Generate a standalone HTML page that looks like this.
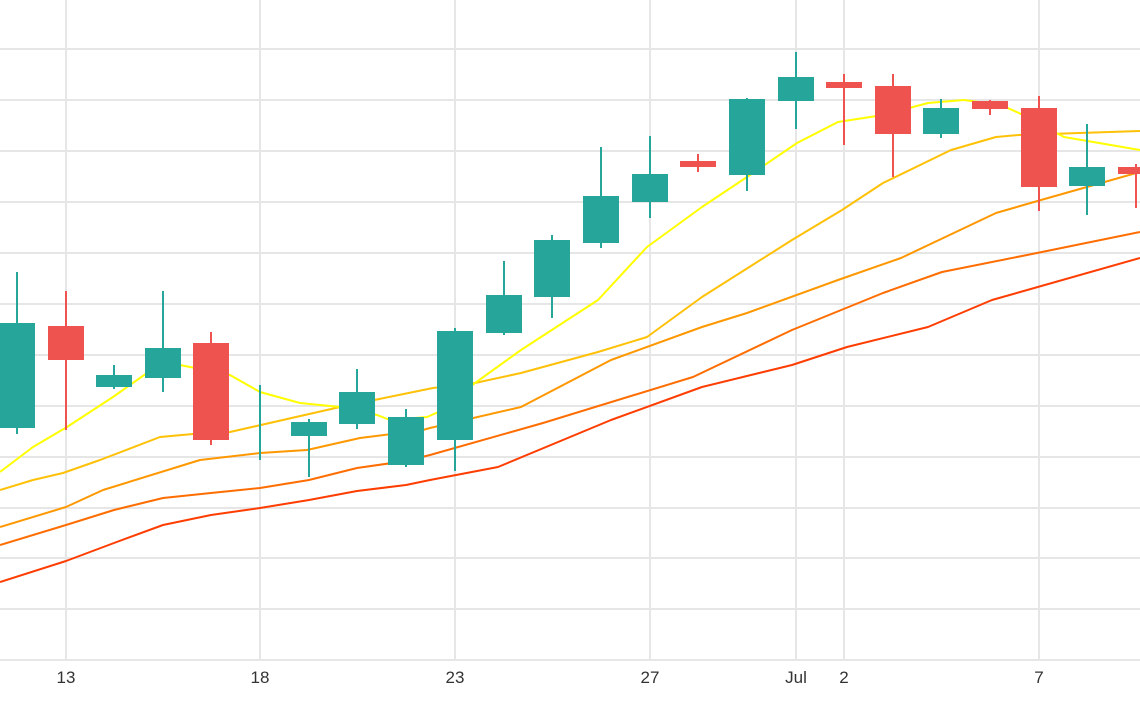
<!DOCTYPE html>
<html><head><meta charset="utf-8"><style>html,body{margin:0;padding:0;background:#fff}svg{display:block}</style></head><body>
<svg width="1140" height="710" xmlns="http://www.w3.org/2000/svg">
<g stroke="#e6e6e6" stroke-width="2">
<line x1="0" y1="49" x2="1140" y2="49"/><line x1="0" y1="100" x2="1140" y2="100"/><line x1="0" y1="151" x2="1140" y2="151"/><line x1="0" y1="202" x2="1140" y2="202"/><line x1="0" y1="253" x2="1140" y2="253"/><line x1="0" y1="304" x2="1140" y2="304"/><line x1="0" y1="355" x2="1140" y2="355"/><line x1="0" y1="406" x2="1140" y2="406"/><line x1="0" y1="457" x2="1140" y2="457"/><line x1="0" y1="508" x2="1140" y2="508"/><line x1="0" y1="558" x2="1140" y2="558"/><line x1="0" y1="609" x2="1140" y2="609"/><line x1="0" y1="660" x2="1140" y2="660"/>
<line x1="66" y1="0" x2="66" y2="660"/><line x1="260" y1="0" x2="260" y2="660"/><line x1="455" y1="0" x2="455" y2="660"/><line x1="650" y1="0" x2="650" y2="660"/><line x1="796" y1="0" x2="796" y2="660"/><line x1="844" y1="0" x2="844" y2="660"/><line x1="1039" y1="0" x2="1039" y2="660"/>
</g>
<g fill="none" stroke-width="2" stroke-linejoin="round">
<polyline stroke="#ff3d00" points="0,582 66,561 114,543 163,525 211,515 260,508 309,500 357,491 406,485 430,480 498,467 611,420 702,387 792,365 847,347 928,327 992,300 1140,258"/>
<polyline stroke="#ff6d00" points="0,545 66,525 114,510 163,498 211,493 260,488 309,480 357,468 406,461 430,455 543,423 693,377 792,330 883,293 942,272 1037,253 1140,232"/>
<polyline stroke="#ff9800" points="0,527 66,507 103,490 200,460 260,453 307,450 360,438 423,430 430,428 521,407 611,360 702,327 747,313 838,280 901,258 996,213 1041,200 1140,172"/>
<polyline stroke="#ffc107" points="0,490 33,480 63,473 100,460 160,437 193,434 230,432 340,407 433,388 475,383 521,373 598,352 647,337 702,297 792,240 842,210 883,183 951,150 996,137 1019,135 1140,131"/>
<polyline stroke="#ffff00" points="0,472 33,447 67,427 113,397 147,373 180,365 230,375 260,392 300,403 340,407 377,415 390,420 427,417 443,410 475,383 521,350 598,300 647,247 702,207 747,177 797,143 838,122 883,115 928,103 964,100 1001,105 1019,113 1064,137 1140,150"/>
</g>
<g stroke-width="2">
<g stroke="#26a69a" fill="#26a69a">
<line x1="17" y1="272" x2="17" y2="434"/><rect x="0" y="324" width="34" height="103"/>
<line x1="114" y1="365" x2="114" y2="389"/><rect x="97" y="376" width="34" height="10"/>
<line x1="163" y1="291" x2="163" y2="392"/><rect x="146" y="349" width="34" height="28"/>
<line x1="260" y1="385" x2="260" y2="460"/>
<line x1="309" y1="419" x2="309" y2="477"/><rect x="292" y="423" width="34" height="12"/>
<line x1="357" y1="369" x2="357" y2="429"/><rect x="340" y="393" width="34" height="30"/>
<line x1="406" y1="409" x2="406" y2="467"/><rect x="389" y="418" width="34" height="46"/>
<line x1="455" y1="328" x2="455" y2="471"/><rect x="438" y="332" width="34" height="107"/>
<line x1="504" y1="261" x2="504" y2="335"/><rect x="487" y="296" width="34" height="36"/>
<line x1="552" y1="235" x2="552" y2="318"/><rect x="535" y="241" width="34" height="55"/>
<line x1="601" y1="147" x2="601" y2="248"/><rect x="584" y="197" width="34" height="45"/>
<line x1="650" y1="136" x2="650" y2="218"/><rect x="633" y="175" width="34" height="26"/>
<line x1="747" y1="98" x2="747" y2="191"/><rect x="730" y="100" width="34" height="74"/>
<line x1="796" y1="52" x2="796" y2="129"/><rect x="779" y="78" width="34" height="22"/>
<line x1="941" y1="99" x2="941" y2="138"/><rect x="924" y="109" width="34" height="24"/>
<line x1="1087" y1="124" x2="1087" y2="215"/><rect x="1070" y="168" width="34" height="17"/>
</g>
<g stroke="#ef5350" fill="#ef5350">
<line x1="66" y1="291" x2="66" y2="430"/><rect x="49" y="327" width="34" height="32"/>
<line x1="211" y1="332" x2="211" y2="445"/><rect x="194" y="344" width="34" height="95"/>
<line x1="698" y1="154" x2="698" y2="172"/><rect x="681" y="162" width="34" height="4"/>
<line x1="844" y1="74" x2="844" y2="145"/><rect x="827" y="83" width="34" height="4"/>
<line x1="893" y1="74" x2="893" y2="177"/><rect x="876" y="87" width="34" height="46"/>
<line x1="990" y1="100" x2="990" y2="115"/><rect x="973" y="102" width="34" height="6"/>
<line x1="1039" y1="96" x2="1039" y2="211"/><rect x="1022" y="109" width="34" height="77"/>
<line x1="1136" y1="164" x2="1136" y2="208"/><rect x="1119" y="168" width="34" height="5"/>
</g>
</g>
<g font-family="Liberation Sans, sans-serif" font-size="17" fill="#333" text-anchor="middle">
<text x="66" y="683">13</text><text x="260" y="683">18</text><text x="455" y="683">23</text><text x="650" y="683">27</text><text x="796" y="683">Jul</text><text x="844" y="683">2</text><text x="1039" y="683">7</text>
</g>
</svg>
</body></html>
